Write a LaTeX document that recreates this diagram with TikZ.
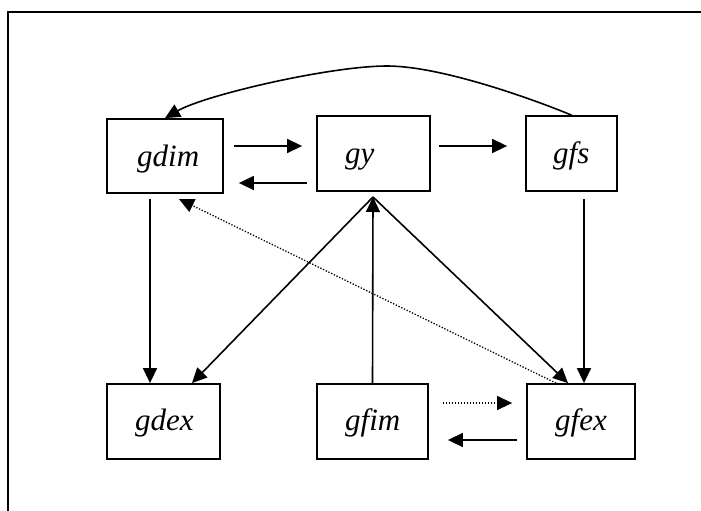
\documentclass[tikz,border=0pt]{standalone}
\usepackage{fontspec}
\setmainfont{Liberation Serif}
\usetikzlibrary{arrows.meta}
\begin{document}
\begin{tikzpicture}[x=1pt,y=-1pt,
  box/.style={draw, line width=1.8pt, inner sep=0pt},
  lbl/.style={anchor=base west, inner sep=0pt, font=\fontsize{31}{36}\selectfont\itshape},
  arr/.style={line width=1.6pt, -{Triangle[length=15pt,width=14pt]}},
  dotarr/.style={line width=1.3pt, dash pattern=on 1.3pt off 1.7pt, -{Triangle[length=15pt,width=14pt]}}]
\useasboundingbox (0,0) rectangle (701,511);
% frame
\draw[line width=2pt] (8,511) -- (8,12) -- (701,12);

% boxes
\node[box, minimum width=116pt, minimum height=74pt] (gdim) at (165,156) {};
\node[box, minimum width=113pt, minimum height=75pt] (gy)   at (373.5,153.5) {};
\node[box, minimum width=91pt,  minimum height=75pt] (gfs)  at (571.5,153.5) {};
\node[box, minimum width=113pt, minimum height=75pt] (gdex) at (163.5,421.5) {};
\node[box, minimum width=111pt, minimum height=75pt] (gfim) at (372.5,421.5) {};
\node[box, minimum width=108pt, minimum height=75pt] (gfex) at (581,421.5) {};

% box texts
\node[lbl] (gdimL) at (137,166) {gdim};
\node[lbl] (gyL)   at (345,163) {gy};
\node[lbl] (gfsL)  at (553,163) {gfs};
\node[lbl] (gdexL) at (135,430) {gdex};
\node[lbl] (gfimL) at (345,430) {gfim};
\node[lbl] (gfexL) at (555,430) {gfex};

\coordinate (gyfoot) at (373,197);
\coordinate (dimfoot) at (179,199);
\coordinate (arcTop) at (387,66);

% horizontal links
\draw[arr, shorten <=10pt, shorten >=14pt] (gdim.east |- 0,146) -- (gy.west |- 0,146);
\draw[arr, shorten <=9pt, shorten >=15pt] (gy.west |- 0,183) -- (gdim.east |- 0,183);
\draw[arr, shorten <=8pt, shorten >=18pt] (gy.east |- 0,146) -- (gfs.west |- 0,146);
\draw[dotarr, shorten <=14pt, shorten >=14pt] (gfim.east |- 0,403) -- (gfex.west |- 0,403);
\draw[arr, shorten <=9pt, shorten >=19pt] (gfex.west |- 0,440) -- (gfim.east |- 0,440);

% feedback curve from gfs back to gdim
\draw[arr] (gfs.north) .. controls (530,98) and (440,66) .. (arcTop)
  .. controls (330,66) and (205,95) .. (gdim.north);

% vertical and diagonal links
\draw[arr, shorten <=5pt] (150,0 |- gdim.south) -- (150,0 |- gdex.north);
\draw[arr] (gyfoot) -- (192,0 |- gdex.north);
\draw[arr] (gfim.north) -- (gyfoot);
\draw[arr] (gyfoot) -- (568,0 |- gfex.north);
\draw[arr, shorten <=7pt] (584,0 |- gfs.south) -- (584,0 |- gfex.north);
\draw[dotarr] (556,0 |- gfex.north) -- (dimfoot);
\end{tikzpicture}
\end{document}
